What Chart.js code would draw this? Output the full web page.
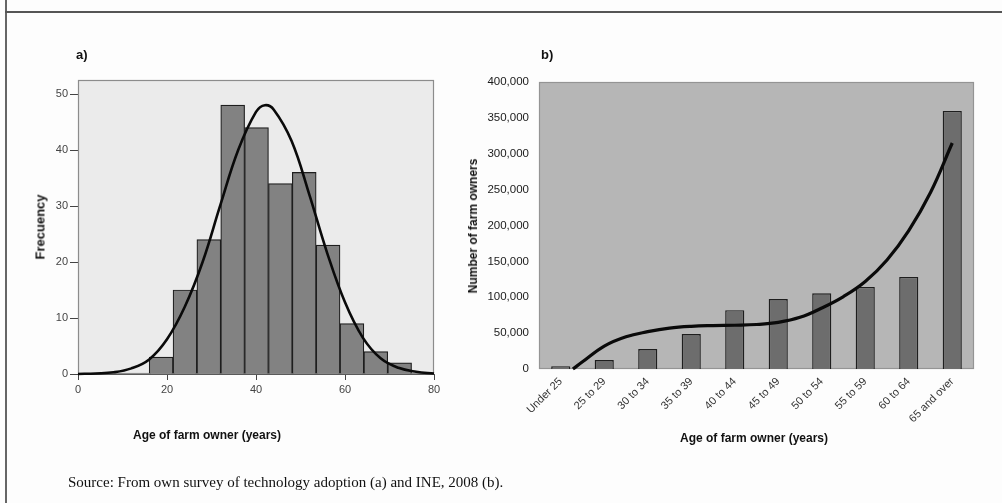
<!DOCTYPE html>
<html>
<head>
<meta charset="utf-8">
<script src="https://cdn.jsdelivr.net/npm/chart.js@4.4.1/dist/chart.umd.min.js"></script>
<style>
  html, body { margin:0; padding:0; background:#fdfdfd; }
  body { width:1002px; height:503px; position:relative; overflow:hidden; font-family:"Liberation Sans", Arial, sans-serif; }
  .abs { position:absolute; white-space:nowrap; }
  #wrapA { position:absolute; left:0; top:0; width:460px; height:503px; }
  #wrapB { position:absolute; left:460px; top:0; width:542px; height:503px; }
  .lbl { font-weight:bold; font-size:12px; color:#111; }
  .panel { font-weight:bold; font-size:13px; color:#111; }
  .rot { transform:translate(-50%,-50%) rotate(-90deg); }
  .src { font-family:"Liberation Serif", "Times New Roman", serif; font-size:15px; color:#111; }
</style>
</head>
<body>
<div class="abs" style="left:5px; top:0; width:1.5px; height:503px; background:#666;"></div>
<div class="abs" style="left:5px; top:11px; width:997px; height:1.5px; background:#555;"></div>

<div id="wrapA"><canvas id="chartA"></canvas></div>
<div id="wrapB"><canvas id="chartB"></canvas></div>

<div class="abs panel" style="left:76px; top:47px;">a)</div>
<div class="abs panel" style="left:541px; top:47px;">b)</div>
<div class="abs lbl rot" style="left:40px; top:227px; font-size:13px;">Frecuency</div>
<div class="abs lbl rot" style="left:473px; top:226px;">Number of farm owners</div>
<div class="abs lbl" style="left:133px; top:428px;">Age of farm owner (years)</div>
<div class="abs lbl" style="left:680px; top:431px;">Age of farm owner (years)</div>
<div class="abs src" style="left:68px; top:474px;">Source: From own survey of technology adoption (a) and INE, 2008 (b).</div>

<script>
// ---------- Panel a: histogram of farm owner age (survey) ----------
const histBinCentres = [18.68, 24.04, 29.40, 34.76, 40.12, 45.48, 50.84, 56.20, 61.56, 66.92, 72.28];
const histFrequency  = [3, 15, 24, 48, 44, 34, 36, 23, 9, 4, 2];
// fitted normal curve
const curveAges      = [0, 4, 8, 12, 16, 20, 24, 28, 32, 36, 40, 42, 44, 48, 52, 56, 60, 64, 68, 72, 76, 80];
const curveFrequency = [0, 0.1, 0.3, 1.0, 2.6, 6.2, 12.0, 20.0, 30.2, 40.0, 46.8, 48.0, 47.2, 41.6, 32.0, 21.6, 12.8, 6.5, 2.8, 1.1, 0.4, 0.1];
const ageTicksA = [0, 20, 40, 60, 80];
const freqTicksA = [0, 10, 20, 30, 40, 50];

// ---------- Panel b: farm owners by age group (INE 2008) ----------
const ageGroups   = ['Under 25', '25 to 29', '30 to 34', '35 to 39', '40 to 44', '45 to 49', '50 to 54', '55 to 59', '60 to 64', '65 and over'];
const farmOwners  = [4000, 12500, 27800, 48700, 82000, 97500, 105500, 114400, 128300, 359700];
// polynomial trend line (position in category units)
const trendPos    = [0.28, 0.5, 1, 1.5, 2, 2.5, 3, 3.5, 4, 4.5, 5, 5.5, 6, 6.5, 7, 7.5, 8, 8.5, 9];
const trendOwners = [0, 10000, 32000, 45000, 52000, 57000, 59500, 60500, 61000, 62000, 65000, 72000, 85000, 101000, 122000, 152000, 193000, 246000, 315000];
const ownerTicks  = [0, 50000, 100000, 150000, 200000, 250000, 300000, 350000, 400000];

const FONT = '"Liberation Sans", Arial, sans-serif';

const plotBg = {
  id: 'plotBg',
  beforeDraw(chart, args, opts) {
    const { ctx, chartArea: { left, top, width, height } } = chart;
    ctx.save();
    ctx.fillStyle = opts.color;
    ctx.fillRect(left, top, width, height);
    ctx.restore();
  },
  beforeDatasetsDraw(chart, args, opts) {
    const { ctx, chartArea: { left, top, width, height } } = chart;
    ctx.save();
    ctx.strokeStyle = opts.border;
    ctx.lineWidth = 1.2;
    ctx.strokeRect(left + 0.5, top + 0.5, width - 1, height - 1);
    ctx.restore();
  }
};

new Chart(document.getElementById('chartA'), {
  type: 'bar',
  data: {
    datasets: [
      {
        type: 'line',
        data: curveAges.map((a, i) => ({ x: a, y: curveFrequency[i] })),
        borderColor: '#0a0a0a',
        borderWidth: 2.6,
        pointRadius: 0,
        tension: 0.4,
        fill: false,
        clip: 6,
        order: 0
      },
      {
        type: 'bar',
        data: histBinCentres.map((c, i) => ({ x: c, y: histFrequency[i] })),
        backgroundColor: '#828282',
        borderColor: '#1e1e1e',
        borderWidth: 1.2,
        barPercentage: 1,
        categoryPercentage: 1,
        order: 1
      }
    ]
  },
  options: {
    responsive: true,
    maintainAspectRatio: false,
    animation: false,
    events: [],
    layout: { padding: { left: 0, top: 80, right: 26, bottom: 105 } },
    plugins: {
      legend: { display: false },
      tooltip: { enabled: false },
      plotBg: { color: '#ebebeb', border: '#8c8c8c' }
    },
    scales: {
      x: {
        type: 'linear',
        min: 0, max: 80,
        offset: false,
        afterFit: s => { s.height = 24; },
        afterBuildTicks: s => { s.ticks = ageTicksA.map(v => ({ value: v })); },
        grid: { display: true, drawOnChartArea: false, offset: false, tickLength: 6, color: '#444', lineWidth: 1 },
        border: { display: true, color: '#555', width: 1 },
        ticks: { color: '#444', font: { family: FONT, size: 11 }, padding: 3, maxRotation: 0 }
      },
      y: {
        type: 'linear',
        min: 0, max: 52.5,
        afterFit: s => { s.width = 78; },
        afterBuildTicks: s => { s.ticks = freqTicksA.map(v => ({ value: v })); },
        grid: { display: true, drawOnChartArea: false, tickLength: 8, color: '#444', lineWidth: 1 },
        border: { display: true, color: '#777', width: 1 },
        ticks: { color: '#444', font: { family: FONT, size: 11 }, padding: 2 }
      }
    }
  },
  plugins: [plotBg]
});

new Chart(document.getElementById('chartB'), {
  type: 'bar',
  data: {
    labels: ageGroups,
    datasets: [
      {
        type: 'line',
        xAxisID: 'x2',
        data: trendPos.map((p, i) => ({ x: p, y: trendOwners[i] })),
        borderColor: '#0a0a0a',
        borderWidth: 3.2,
        pointRadius: 0,
        tension: 0.4,
        fill: false,
        clip: 6,
        order: 0
      },
      {
        type: 'bar',
        xAxisID: 'x',
        data: farmOwners,
        backgroundColor: '#6d6d6d',
        borderColor: '#1e1e1e',
        borderWidth: 1.4,
        barPercentage: 0.44,
        categoryPercentage: 1,
        grouped: false,
        order: 1
      }
    ]
  },
  options: {
    responsive: true,
    maintainAspectRatio: false,
    animation: false,
    events: [],
    layout: { padding: { left: 0, top: 82, right: 28, bottom: 64 } },
    plugins: {
      legend: { display: false },
      tooltip: { enabled: false },
      plotBg: { color: '#b6b6b6', border: '#949494' }
    },
    scales: {
      x: {
        type: 'category',
        offset: true,
        afterFit: s => { s.height = 70; },
        grid: { display: false, drawTicks: false },
        border: { display: false },
        ticks: { color: '#333', font: { family: FONT, size: 11 }, padding: 6, minRotation: 45, maxRotation: 45, autoSkip: false }
      },
      x2: {
        type: 'linear',
        display: false,
        offset: false,
        grid: { offset: false },
        min: -0.5, max: 9.5
      },
      y: {
        type: 'linear',
        min: 0, max: 400000,
        afterFit: s => { s.width = 79; },
        afterBuildTicks: s => { s.ticks = ownerTicks.map(v => ({ value: v })); },
        grid: { display: false, drawTicks: false },
        border: { display: false },
        ticks: {
          color: '#1a1a1a',
          font: { family: FONT, size: 11.5 },
          padding: 10,
          callback: v => v.toLocaleString('en-US')
        }
      }
    }
  },
  plugins: [plotBg]
});
</script>
</body>
</html>
